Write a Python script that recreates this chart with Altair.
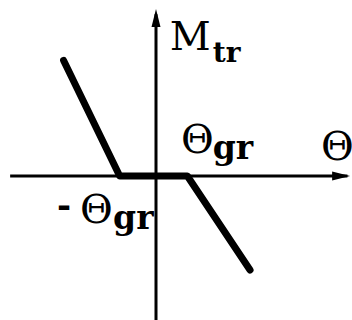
import altair as alt
import pandas as pd

# Transmission torque characteristic: dead zone between -Θgr and Θgr
theta = [-2.8, -1.1, 0.95, 2.85]
m_tr = [3.5, 0.0, 0.0, -2.85]

# Coordinate axes (extent in the same units as the curve)
axis_x = [-4.42, 5.8]
axis_y = [-4.4, 4.9]

# Labels: text, x, y, size, weight
lab_text = ["M", "tr", "Θ", "gr", "Θ", "-", "Θ", "gr"]
lab_x = [0.42, 1.72, 0.76, 1.72, 5.0, -3.0, -2.3, -1.3]
lab_y = [3.82, 3.45, 0.70, 0.52, 0.48, -1.24, -1.42, -1.6]
lab_size = [40, 28, 40, 33, 40, 34, 40, 33]
lab_weight = ["normal", "bold", "normal", "bold", "normal", "bold", "normal", "bold"]

SERIF = "DejaVu Serif"

W, H = 352, 320
xs = alt.Scale(domain=[-156 / 33, 196 / 33], nice=False, zero=False)
ys = alt.Scale(domain=[-144 / 33, 176 / 33], nice=False, zero=False)

curve = pd.DataFrame({"theta": theta, "m": m_tr, "i": range(len(theta))})
hx = pd.DataFrame({"x": [axis_x[0]], "x2": [axis_x[1]], "y": [0.0]})
vy = pd.DataFrame({"x": [0.0], "y": [axis_y[0]], "y2": [axis_y[1]]})
arrows = pd.DataFrame({"x": [0.0, 5.61], "y": [4.79, 0.0], "ang": [0, 90]})
labels = pd.DataFrame({"t": lab_text, "x": lab_x, "y": lab_y})

h_axis = alt.Chart(hx).mark_rule(color="black", strokeWidth=3).encode(
    x=alt.X("x:Q", scale=xs, axis=None), x2="x2:Q",
    y=alt.Y("y:Q", scale=ys, axis=None))
v_axis = alt.Chart(vy).mark_rule(color="black", strokeWidth=3).encode(
    x=alt.X("x:Q", scale=xs, axis=None),
    y=alt.Y("y:Q", scale=ys, axis=None), y2="y2:Q")
heads = alt.Chart(arrows).mark_point(
    shape="M0,-1L0.5,1L-0.5,1Z", filled=True, color="black", size=324, opacity=1
).encode(
    x=alt.X("x:Q", scale=xs, axis=None),
    y=alt.Y("y:Q", scale=ys, axis=None),
    angle=alt.Angle("ang:Q", scale=None))
line = alt.Chart(curve).mark_line(
    color="black", strokeWidth=7, strokeCap="round", strokeJoin="round"
).encode(
    x=alt.X("theta:Q", scale=xs, axis=None),
    y=alt.Y("m:Q", scale=ys, axis=None),
    order="i:O")

texts = []
for i in range(len(lab_text)):
    texts.append(alt.Chart(labels.iloc[[i]]).mark_text(
        font=SERIF, fontSize=lab_size[i], fontWeight=lab_weight[i],
        align="left", baseline="alphabetic", color="black"
    ).encode(
        x=alt.X("x:Q", scale=xs, axis=None),
        y=alt.Y("y:Q", scale=ys, axis=None),
        text="t:N"))

chart = alt.layer(h_axis, v_axis, heads, line, *texts).properties(
    width=W, height=H, padding=0, autosize=alt.AutoSizeParams(type="none"),
    background="white"
).configure_view(stroke=None)

chart.save("out.html", embed_options={"renderer": "svg", "actions": False})
